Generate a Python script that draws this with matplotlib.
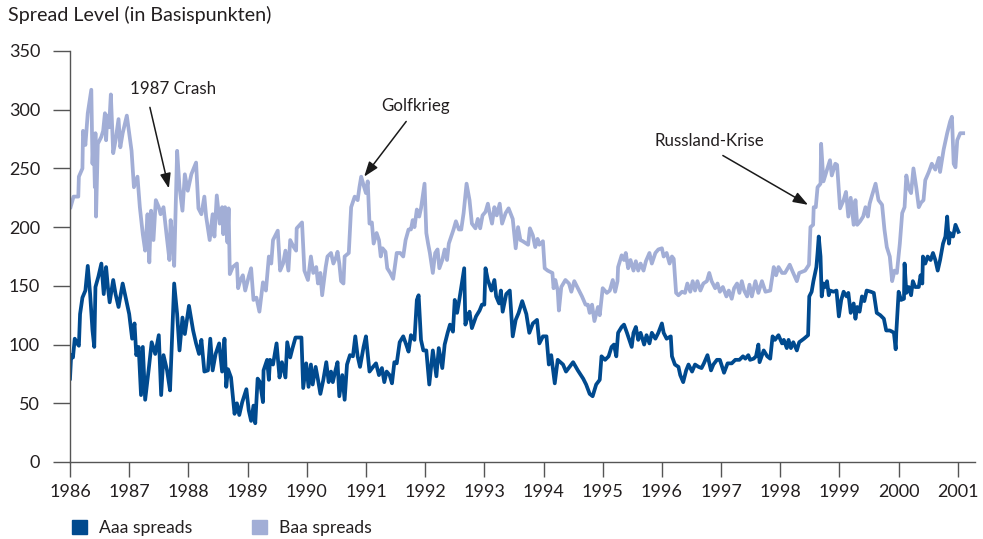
import matplotlib
matplotlib.use('Agg')
import matplotlib.pyplot as plt
from matplotlib.patches import Patch

plt.rcParams['font.family'] = ['Lato', 'DejaVu Sans']

# Aaa spreads (basis points)
aaa_years = [
    1986.00, 1986.02, 1986.05, 1986.08, 1986.12, 1986.15, 1986.17, 1986.21, 1986.26, 1986.30, 1986.34, 1986.38, 1986.41,
    1986.43, 1986.48, 1986.53, 1986.57, 1986.61, 1986.64, 1986.67, 1986.73, 1986.77, 1986.82, 1986.89, 1986.95,
    1987.00, 1987.05, 1987.09, 1987.12, 1987.16, 1987.20, 1987.23, 1987.27, 1987.33, 1987.38, 1987.44, 1987.50, 1987.54,
    1987.58, 1987.64, 1987.69, 1987.76, 1987.81, 1987.85, 1987.90, 1987.94,
    1988.01, 1988.08, 1988.13, 1988.18, 1988.22, 1988.27, 1988.33, 1988.37, 1988.41, 1988.46, 1988.52, 1988.57, 1988.61,
    1988.64, 1988.67, 1988.72, 1988.78, 1988.82, 1988.86, 1988.91, 1988.98,
    1989.02, 1989.06, 1989.10, 1989.13, 1989.17, 1989.21, 1989.26, 1989.27, 1989.33, 1989.36, 1989.38, 1989.43, 1989.49,
    1989.54, 1989.58, 1989.64, 1989.67, 1989.72, 1989.76, 1989.81, 1989.91,
    1989.94, 1989.99, 1990.03, 1990.07, 1990.10, 1990.15, 1990.19, 1990.23, 1990.28, 1990.33, 1990.37, 1990.41, 1990.44,
    1990.48, 1990.52, 1990.55, 1990.60, 1990.64, 1990.68, 1990.73, 1990.78, 1990.82, 1990.86, 1990.90, 1990.96,
    1991.00, 1991.06, 1991.12, 1991.17, 1991.22, 1991.27, 1991.31, 1991.35, 1991.40, 1991.44, 1991.48, 1991.52, 1991.57,
    1991.63, 1991.68, 1991.72, 1991.76, 1991.82, 1991.86, 1991.89, 1991.93, 1991.97,
    1992.02, 1992.07, 1992.13, 1992.19, 1992.23, 1992.29, 1992.33, 1992.38, 1992.42, 1992.47, 1992.50, 1992.54, 1992.58,
    1992.63, 1992.66, 1992.68, 1992.72, 1992.75, 1992.79, 1992.86, 1992.92, 1992.96,
    1993.00, 1993.02, 1993.06, 1993.12, 1993.17, 1993.20, 1993.25, 1993.28, 1993.31, 1993.37, 1993.43, 1993.48, 1993.53,
    1993.58, 1993.64, 1993.71, 1993.76, 1993.82, 1993.89, 1993.93, 1993.99,
    1994.05, 1994.09, 1994.13, 1994.19, 1994.24, 1994.33, 1994.38, 1994.44, 1994.50, 1994.58, 1994.67, 1994.72, 1994.78,
    1994.83, 1994.89, 1994.95, 1994.98,
    1995.04, 1995.10, 1995.15, 1995.19, 1995.23, 1995.26, 1995.32, 1995.36, 1995.41, 1995.45, 1995.49, 1995.52, 1995.56,
    1995.60, 1995.64, 1995.70, 1995.74, 1995.79, 1995.83, 1995.89, 1995.94,
    1996.00, 1996.03, 1996.08, 1996.15, 1996.17, 1996.22, 1996.28, 1996.31, 1996.36, 1996.41, 1996.45, 1996.51, 1996.56,
    1996.62, 1996.67, 1996.71, 1996.77, 1996.83, 1996.87, 1996.93, 1996.98,
    1997.05, 1997.11, 1997.18, 1997.24, 1997.31, 1997.37, 1997.41, 1997.46, 1997.49, 1997.55, 1997.59, 1997.63, 1997.65,
    1997.72, 1997.78, 1997.83, 1997.87, 1997.91, 1997.97,
    1998.03, 1998.06, 1998.11, 1998.14, 1998.18, 1998.22, 1998.28, 1998.32, 1998.40, 1998.47, 1998.49, 1998.53, 1998.56,
    1998.61, 1998.63, 1998.65, 1998.68, 1998.70, 1998.73, 1998.76, 1998.79, 1998.82, 1998.84, 1998.90, 1998.95, 1998.99,
    1999.03, 1999.07, 1999.12, 1999.15, 1999.19, 1999.24, 1999.27, 1999.30, 1999.34, 1999.38, 1999.42, 1999.46, 1999.53,
    1999.58, 1999.63, 1999.69, 1999.75, 1999.79, 1999.85, 1999.89, 1999.92, 1999.95, 1999.96,
    2000.00, 2000.04, 2000.09, 2000.10, 2000.13, 2000.17, 2000.21, 2000.24, 2000.28, 2000.34, 2000.37, 2000.40, 2000.41,
    2000.45, 2000.49, 2000.54, 2000.58, 2000.62, 2000.66, 2000.70, 2000.75, 2000.79, 2000.82, 2000.85, 2000.87, 2000.92,
    2000.96, 2001.01,
]
aaa_values = [
    71, 91, 89, 105, 101, 99, 126, 140, 146, 167, 143, 112, 98,
    149, 158, 169, 143, 166, 149, 136, 155, 143, 132, 152, 138,
    126, 105, 118, 91, 98, 57, 98, 53, 79, 102, 92, 108, 57,
    91, 78, 61, 152, 126, 95, 123, 109,
    133, 112, 101, 92, 104, 77, 78, 105, 78, 92, 101, 77, 105,
    64, 79, 72, 41, 50, 40, 51, 62,
    44, 35, 48, 33, 71, 68, 51, 78, 87, 70, 87, 83, 101,
    72, 85, 72, 102, 89, 97, 106, 106,
    63, 84, 64, 83, 66, 81, 70, 58, 70, 85, 68, 77, 68,
    77, 85, 56, 74, 53, 83, 91, 90, 107, 90, 81, 98,
    107, 77, 81, 84, 74, 80, 68, 77, 74, 67, 85, 84, 102,
    107, 100, 94, 108, 104, 138, 142, 104, 95,
    95, 66, 95, 73, 97, 80, 100, 110, 117, 111, 138, 127, 139,
    155, 165, 117, 124, 128, 114, 124, 129, 134,
    134, 165, 155, 146, 155, 141, 135, 146, 128, 143, 146, 107, 121,
    127, 137, 126, 110, 118, 121, 101, 107,
    107, 83, 91, 67, 87, 83, 77, 81, 85, 78, 71, 66, 58,
    56, 66, 70, 90,
    87, 90, 98, 100, 90, 110, 115, 117, 110, 104, 98, 110, 115,
    104, 110, 100, 108, 101, 110, 105, 110,
    118, 110, 105, 107, 90, 83, 81, 74, 68, 78, 83, 77, 83,
    81, 80, 84, 91, 78, 83, 87, 87,
    76, 84, 84, 87, 87, 90, 88, 91, 87, 88, 90, 100, 85,
    95, 90, 88, 107, 104, 108,
    101, 104, 97, 104, 97, 102, 95, 102, 105, 108, 141, 145, 154,
    166, 178, 192, 175, 141, 152, 149, 154, 142, 146, 145, 146, 124,
    138, 145, 141, 144, 127, 135, 122, 132, 128, 141, 137, 146, 145,
    144, 127, 125, 122, 112, 112, 111, 110, 96, 110,
    145, 138, 139, 169, 144, 149, 142, 154, 149, 149, 159, 152, 175,
    169, 175, 172, 178, 172, 163, 172, 186, 192, 209, 186, 195, 192,
    202, 196,
]

# Baa spreads (basis points)
baa_years = [
    1986.01, 1986.06, 1986.14, 1986.15, 1986.21, 1986.22, 1986.26, 1986.30, 1986.36, 1986.38, 1986.40, 1986.42, 1986.43,
    1986.44, 1986.47, 1986.53, 1986.56, 1986.59, 1986.61, 1986.63, 1986.66, 1986.69, 1986.73, 1986.77, 1986.82, 1986.85,
    1986.89, 1986.96,
    1987.04, 1987.08, 1987.14, 1987.18, 1987.23, 1987.27, 1987.31, 1987.34, 1987.37, 1987.41, 1987.45, 1987.50, 1987.53,
    1987.58, 1987.63, 1987.68, 1987.70, 1987.73, 1987.76, 1987.81, 1987.85, 1987.90, 1987.94, 1987.99,
    1988.05, 1988.13, 1988.17, 1988.22, 1988.27, 1988.30, 1988.36, 1988.41, 1988.44, 1988.48, 1988.53, 1988.57, 1988.59,
    1988.62, 1988.66, 1988.68, 1988.70, 1988.75, 1988.82, 1988.84, 1988.88, 1988.92, 1988.96,
    1989.02, 1989.06, 1989.10, 1989.15, 1989.20, 1989.26, 1989.31, 1989.36, 1989.40, 1989.43, 1989.51, 1989.55, 1989.60,
    1989.64, 1989.69, 1989.72, 1989.78, 1989.82, 1989.83, 1989.92, 1989.96,
    1990.02, 1990.07, 1990.11, 1990.16, 1990.19, 1990.23, 1990.26, 1990.32, 1990.35, 1990.41, 1990.45, 1990.50, 1990.52,
    1990.55, 1990.58, 1990.62, 1990.64, 1990.71, 1990.75, 1990.81, 1990.86, 1990.89, 1990.92, 1990.97,
    1991.00, 1991.03, 1991.06, 1991.10, 1991.13, 1991.18, 1991.22, 1991.25, 1991.28, 1991.33, 1991.36, 1991.41, 1991.46,
    1991.52, 1991.58, 1991.63, 1991.67, 1991.72, 1991.76, 1991.79, 1991.82, 1991.86, 1991.90, 1991.93, 1991.99,
    1992.02, 1992.05, 1992.08, 1992.13, 1992.17, 1992.21, 1992.24, 1992.29, 1992.33, 1992.37, 1992.40, 1992.44, 1992.48,
    1992.52, 1992.57, 1992.61, 1992.65, 1992.70, 1992.75, 1992.79, 1992.85, 1992.89, 1992.93, 1992.97,
    1993.02, 1993.06, 1993.09, 1993.13, 1993.17, 1993.21, 1993.26, 1993.30, 1993.36, 1993.41, 1993.48, 1993.53, 1993.57,
    1993.61, 1993.65, 1993.74, 1993.77, 1993.82, 1993.86, 1993.90, 1993.93, 1993.99,
    1994.02, 1994.07, 1994.15, 1994.17, 1994.20, 1994.24, 1994.26, 1994.30, 1994.37, 1994.43, 1994.47, 1994.52, 1994.60,
    1994.65, 1994.71, 1994.75, 1994.78, 1994.82, 1994.86, 1994.92, 1994.95,
    1995.00, 1995.07, 1995.12, 1995.17, 1995.21, 1995.25, 1995.26, 1995.32, 1995.36, 1995.39, 1995.43, 1995.47, 1995.52,
    1995.56, 1995.60, 1995.64, 1995.69, 1995.73, 1995.79, 1995.83, 1995.89, 1995.94,
    1996.00, 1996.03, 1996.08, 1996.13, 1996.17, 1996.20, 1996.24, 1996.28, 1996.34, 1996.39, 1996.43, 1996.48, 1996.52,
    1996.56, 1996.60, 1996.65, 1996.70, 1996.76, 1996.80, 1996.84, 1996.90, 1996.94, 1996.98,
    1997.03, 1997.09, 1997.13, 1997.18, 1997.22, 1997.27, 1997.31, 1997.35, 1997.39, 1997.44, 1997.48, 1997.52, 1997.58,
    1997.63, 1997.69, 1997.75, 1997.83, 1997.89, 1997.93, 1997.97,
    1998.03, 1998.08, 1998.16, 1998.21, 1998.28, 1998.32, 1998.42, 1998.485, 1998.51, 1998.555, 1998.565, 1998.60, 1998.63,
    1998.68, 1998.69, 1998.73, 1998.79, 1998.84, 1998.87, 1998.93, 1998.96,
    1999.01, 1999.07, 1999.11, 1999.15, 1999.19, 1999.24, 1999.27, 1999.30, 1999.35, 1999.40, 1999.44, 1999.48, 1999.51,
    1999.55, 1999.61, 1999.66, 1999.72, 1999.76, 1999.80, 1999.85, 1999.89, 1999.93, 1999.97,
    2000.02, 2000.06, 2000.10, 2000.13, 2000.17, 2000.21, 2000.25, 2000.30, 2000.34, 2000.38, 2000.42, 2000.45, 2000.51,
    2000.56, 2000.62, 2000.68, 2000.70, 2000.76, 2000.82, 2000.87, 2000.90, 2000.93, 2000.96, 2000.99, 2001.04, 2001.09,
]
baa_values = [
    217, 226, 226, 243, 250, 282, 270, 297, 317, 254, 278, 234, 280,
    209, 271, 277, 282, 297, 274, 295, 285, 313, 263, 274, 292, 268,
    280, 295,
    265, 234, 243, 217, 194, 180, 211, 170, 214, 189, 223, 217, 211,
    217, 194, 172, 206, 192, 167, 265, 234, 214, 245, 231,
    245, 255, 216, 211, 226, 209, 189, 211, 192, 227, 203, 217, 194,
    217, 187, 216, 160, 166, 169, 148, 155, 159, 146,
    158, 165, 138, 140, 128, 153, 146, 175, 169, 189, 197, 163, 169,
    180, 163, 189, 183, 180, 199, 204, 163,
    155, 175, 161, 166, 152, 161, 142, 166, 175, 178, 169, 175, 179,
    169, 154, 152, 175, 178, 217, 226, 223, 234, 243, 234,
    229, 239, 203, 204, 186, 195, 189, 175, 182, 179, 165, 161, 156,
    178, 178, 175, 189, 198, 198, 206, 200, 215, 209, 216, 237,
    195, 186, 178, 161, 178, 181, 165, 172, 181, 172, 186, 192, 198,
    205, 198, 198, 212, 237, 223, 203, 199, 207, 199, 210,
    213, 220, 212, 203, 217, 210, 220, 203, 212, 216, 207, 182, 200,
    189, 188, 185, 199, 193, 183, 190, 185, 188,
    165, 163, 161, 148, 155, 146, 129, 149, 155, 152, 145, 154, 146,
    141, 134, 134, 127, 134, 120, 132, 125,
    148, 144, 146, 155, 145, 154, 166, 176, 172, 178, 165, 172, 163,
    171, 163, 169, 163, 171, 178, 169, 178, 181,
    182, 175, 178, 169, 175, 173, 144, 142, 145, 144, 152, 145, 154,
    146, 154, 146, 152, 154, 161, 154, 148, 152, 145,
    149, 141, 146, 139, 148, 152, 144, 154, 146, 141, 151, 141, 154,
    144, 154, 145, 146, 166, 159, 166,
    161, 161, 168, 162, 154, 161, 163, 168, 200, 202, 217, 217, 234,
    237, 271, 239, 249, 257, 244, 254, 253,
    216, 223, 230, 209, 225, 202, 223, 202, 205, 209, 217, 209, 220,
    227, 237, 223, 219, 198, 183, 175, 154, 163, 161,
    186, 212, 217, 244, 233, 229, 250, 233, 217, 221, 223, 240, 247,
    254, 249, 259, 247, 266, 280, 290, 294, 254, 251, 274, 280, 280,
]

years_ticks = list(range(1986, 2002))
spread_ticks = list(range(0, 351, 50))

dark_blue = '#004a8f'
light_blue = '#a2aed6'
text_color = '#231f20'
axis_color = '#555555'

fig = plt.figure(figsize=(9.83, 5.39), dpi=100)
ax = fig.add_axes([70 / 983, 77 / 539, 905 / 983, 411 / 539])

ax.plot(baa_years, baa_values, color=light_blue, lw=2.7, solid_joinstyle='round')
ax.plot(aaa_years, aaa_values, color=dark_blue, lw=2.7, solid_joinstyle='round')

ax.set_xlim(1986, 2001.29)
ax.set_ylim(0, 350)
ax.set_xticks(years_ticks)
ax.set_yticks(spread_ticks)

for side in ['top', 'right']:
    ax.spines[side].set_visible(False)
for side in ['left', 'bottom']:
    ax.spines[side].set_color(axis_color)
    ax.spines[side].set_linewidth(1.0)

ax.tick_params(axis='y', length=12.5, width=1.0, color=axis_color, pad=9,
               labelsize=13, labelcolor=text_color)
ax.tick_params(axis='x', length=10.5, width=1.0, color=axis_color, pad=5,
               labelsize=13, labelcolor=text_color)

fig.text(8 / 983, 1 - 15 / 539, 'Spread Level (in Basispunkten)', ha='left', va='center',
         fontsize=14.2, color=text_color)

arrow_kw = dict(arrowstyle='-|>,head_length=0.5,head_width=0.18', color='#1a1a1a', lw=1.1,
                mutation_scale=18, shrinkA=0, shrinkB=0)

ax.text(1987.74, 318, '1987 Crash', ha='center', va='center', fontsize=12.2, color=text_color)
ax.annotate('', xy=(1987.67, 233), xytext=(1987.35, 302), arrowprops=arrow_kw)

ax.text(1991.84, 303, 'Golfkrieg', ha='center', va='center', fontsize=12.2, color=text_color)
ax.annotate('', xy=(1990.97, 243), xytext=(1991.68, 290), arrowprops=arrow_kw)

ax.text(1996.81, 273, 'Russland-Krise', ha='center', va='center', fontsize=12.2, color=text_color)
ax.annotate('', xy=(1998.47, 219), xytext=(1997.03, 261), arrowprops=arrow_kw)

handles = [Patch(color=dark_blue), Patch(color=light_blue)]
fig.legend(handles, ['Aaa spreads', 'Baa spreads'], loc='center left',
           bbox_to_anchor=(72 / 983, 1 - 528 / 539), ncol=2, frameon=False, fontsize=12.6,
           handlelength=0.85, handleheight=0.85, handletextpad=0.7, columnspacing=3.4,
           borderpad=0, borderaxespad=0, labelcolor=text_color)

fig.savefig('out.png', dpi=100)
